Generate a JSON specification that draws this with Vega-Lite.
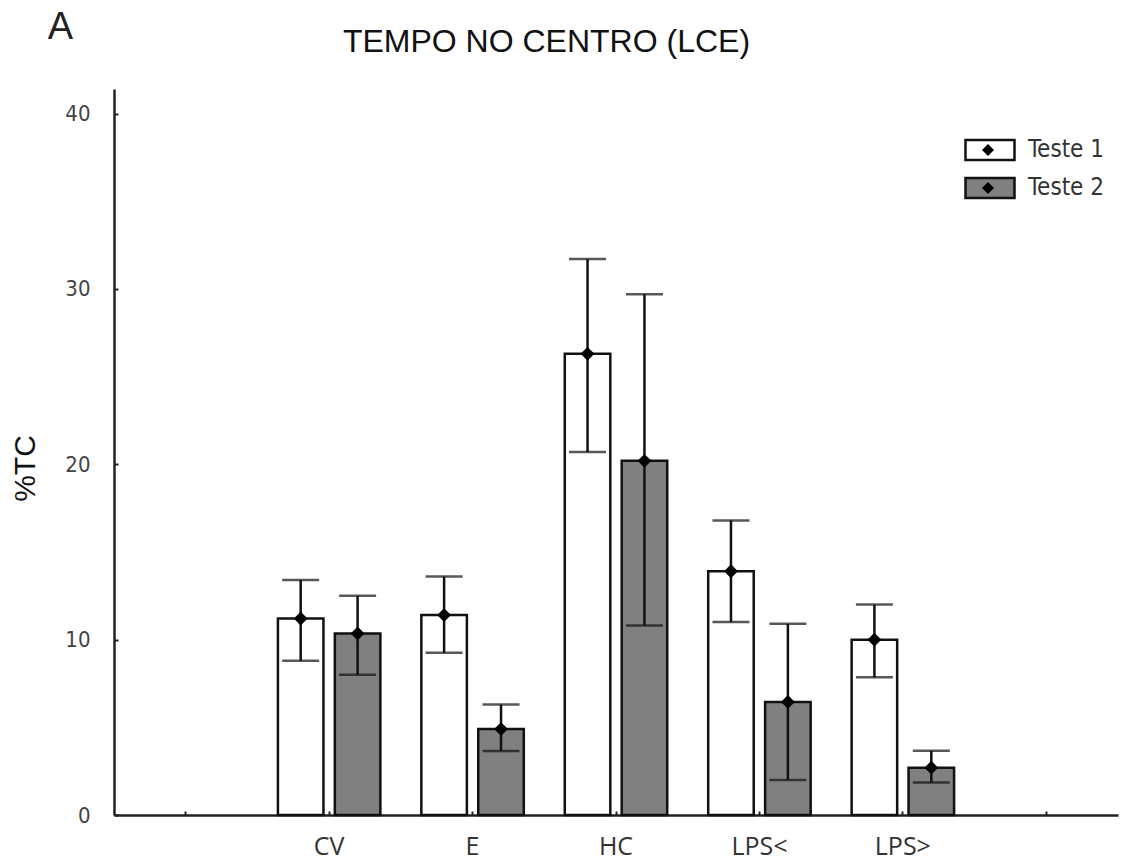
{
  "$schema": "https://vega.github.io/schema/vega-lite/v6.json",
  "width": 1004,
  "height": 726,
  "autosize": {"type": "none"},
  "padding": {"left": 114, "top": 89, "right": 8, "bottom": 48},
  "background": "white",
  "config": {"view": {"stroke": null}, "axis": {"grid": false}},
  "data": {"values": [
    {"group": "CV", "test": "Teste 1", "mean": 11.2, "lo": 8.8, "hi": 13.4},
    {"group": "CV", "test": "Teste 2", "mean": 10.35, "lo": 8.0, "hi": 12.5},
    {"group": "E", "test": "Teste 1", "mean": 11.4, "lo": 9.25, "hi": 13.6},
    {"group": "E", "test": "Teste 2", "mean": 4.9, "lo": 3.65, "hi": 6.3},
    {"group": "HC", "test": "Teste 1", "mean": 26.3, "lo": 20.7, "hi": 31.7},
    {"group": "HC", "test": "Teste 2", "mean": 20.2, "lo": 10.8, "hi": 29.7},
    {"group": "LPS<", "test": "Teste 1", "mean": 13.9, "lo": 11.0, "hi": 16.8},
    {"group": "LPS<", "test": "Teste 2", "mean": 6.45, "lo": 2.0, "hi": 10.9},
    {"group": "LPS>", "test": "Teste 1", "mean": 10.0, "lo": 7.85, "hi": 12.0},
    {"group": "LPS>", "test": "Teste 2", "mean": 2.7, "lo": 1.86, "hi": 3.66}
  ]},
  "resolve": {"axis": {"x": "independent", "y": "independent"}},
  "layer": [
    {
      "mark": {"type": "bar", "stroke": "#111", "strokeWidth": 2.5},
      "encoding": {
        "x": {"field": "group", "type": "nominal", "sort": null,
              "scale": {"type": "band", "domain": ["_L", "CV", "E", "HC", "LPS<", "LPS>", "_R"], "paddingInner": 0, "paddingOuter": 0},
              "axis": {"orient": "bottom", "title": null, "labelAngle": 0, "labelExpr": "indexof(datum.label, '_') == 0 ? '' : datum.label",
                       "domainColor": "#222", "domainWidth": 2.5, "tickColor": "#222", "tickWidth": 2, "tickSize": -4,
                       "labelFont": "Open Sans", "labelFontSize": 25, "labelColor": "#333", "labelPadding": 23, "labelBaseline": "top"}},
        "xOffset": {"field": "test", "type": "nominal", "scale": {"domain": ["Teste 1", "Teste 2"], "paddingInner": 0.2, "paddingOuter": 0.36}},
        "y": {"field": "mean", "type": "quantitative",
              "scale": {"domain": [0, 41.4], "nice": false, "zero": true},
              "axis": {"orient": "left", "values": [0, 10, 20, 30, 40], "title": "%TC", "titleFont": "Liberation Sans", "titleFontSize": 30, "titleFontWeight": "normal", "titleColor": "#111",
                       "titleX": -89, "titleY": 379, "titleAngle": -90, "titleBaseline": "middle", "titleAlign": "center",
                       "domainColor": "#222", "domainWidth": 2.5, "tickColor": "#222", "tickWidth": 2, "tickSize": -4,
                       "labelFont": "Liberation Sans Narrow, DejaVu Sans Condensed, Liberation Sans", "labelFontSize": 22, "labelColor": "#444", "labelPadding": 28}},
        "fill": {"field": "test", "type": "nominal",
                 "scale": {"domain": ["Teste 1", "Teste 2"], "range": ["#ffffff", "#808080"]},
                 "legend": {"title": null, "orient": "none", "legendX": 850, "legendY": 44,
                            "symbolType": "M-1,-0.41H1V0.41H-1Z", "symbolSize": 2401, "symbolStrokeColor": "#111", "symbolStrokeWidth": 2.5,
                            "labelFont": "Liberation Sans Narrow, DejaVu Sans Condensed, Liberation Sans", "labelFontSize": 24, "labelColor": "#333", "labelOffset": 12, "rowPadding": 4, "clipHeight": 34}}
      }
    },
    {
      "mark": {"type": "rule", "color": "#111", "strokeWidth": 2.5},
      "encoding": {
        "x": {"field": "group", "type": "nominal", "sort": null,
              "scale": {"type": "band", "domain": ["_L", "CV", "E", "HC", "LPS<", "LPS>", "_R"], "paddingInner": 0, "paddingOuter": 0},
              "axis": {"orient": "top", "domain": false, "ticks": false, "labels": false, "title": "A",
                       "titleFont": "Liberation Sans", "titleFontSize": 38, "titleFontWeight": "normal", "titleColor": "#222",
                       "titleX": -54, "titleY": -51, "titleAlign": "center", "titleBaseline": "alphabetic", "titleAngle": 0}},
        "xOffset": {"field": "test", "type": "nominal", "scale": {"domain": ["Teste 1", "Teste 2"], "paddingInner": 0.2, "paddingOuter": 0.36}},
        "y": {"field": "lo", "type": "quantitative", "scale": {"domain": [0, 41.4], "nice": false, "zero": true},
              "axis": {"orient": "right", "domain": false, "ticks": false, "labels": false, "title": "TEMPO NO CENTRO (LCE)",
                       "titleFont": "Liberation Sans", "titleFontSize": 32, "titleFontWeight": "normal", "titleColor": "#111",
                       "titleX": -572, "titleY": -38, "titleAlign": "center", "titleBaseline": "alphabetic", "titleAngle": 0}},
        "y2": {"field": "hi"}
      }
    },
    {
      "mark": {"type": "tick", "color": "#111", "thickness": 2.5, "size": 37},
      "encoding": {
        "x": {"field": "group", "type": "nominal", "sort": null,
              "scale": {"type": "band", "domain": ["_L", "CV", "E", "HC", "LPS<", "LPS>", "_R"], "paddingInner": 0, "paddingOuter": 0}, "axis": null},
        "xOffset": {"field": "test", "type": "nominal", "scale": {"domain": ["Teste 1", "Teste 2"], "paddingInner": 0.2, "paddingOuter": 0.36}},
        "y": {"field": "hi", "type": "quantitative", "scale": {"domain": [0, 41.4], "nice": false, "zero": true}, "axis": null}
      }
    },
    {
      "mark": {"type": "tick", "color": "#111", "thickness": 2.5, "size": 37},
      "encoding": {
        "x": {"field": "group", "type": "nominal", "sort": null,
              "scale": {"type": "band", "domain": ["_L", "CV", "E", "HC", "LPS<", "LPS>", "_R"], "paddingInner": 0, "paddingOuter": 0}, "axis": null},
        "xOffset": {"field": "test", "type": "nominal", "scale": {"domain": ["Teste 1", "Teste 2"], "paddingInner": 0.2, "paddingOuter": 0.36}},
        "y": {"field": "lo", "type": "quantitative", "scale": {"domain": [0, 41.4], "nice": false, "zero": true}, "axis": null}
      }
    },
    {
      "mark": {"type": "point", "filled": true, "color": "#000", "opacity": 1, "size": 190},
      "encoding": {
        "x": {"field": "group", "type": "nominal", "sort": null,
              "scale": {"type": "band", "domain": ["_L", "CV", "E", "HC", "LPS<", "LPS>", "_R"], "paddingInner": 0, "paddingOuter": 0}, "axis": null},
        "xOffset": {"field": "test", "type": "nominal", "scale": {"domain": ["Teste 1", "Teste 2"], "paddingInner": 0.2, "paddingOuter": 0.36}},
        "y": {"field": "mean", "type": "quantitative", "scale": {"domain": [0, 41.4], "nice": false, "zero": true}, "axis": null},
        "shape": {"field": "test", "type": "nominal", "scale": {"range": ["diamond", "diamond"]},
                  "legend": {"title": null, "orient": "none", "legendX": 862, "legendY": 44, "symbolSize": 144,
                             "symbolFillColor": "#000", "symbolStrokeColor": "#000", "labelExpr": "''", "labelFontSize": 24, "rowPadding": 4, "clipHeight": 34}}
      }
    }
  ]
}
